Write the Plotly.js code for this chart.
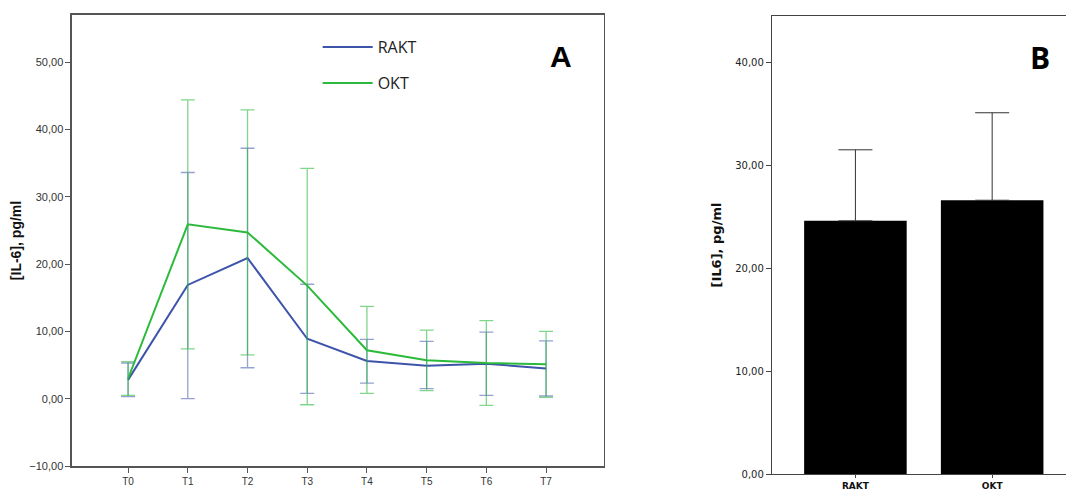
<!DOCTYPE html>
<html>
<head>
<meta charset="utf-8">
<script src="https://cdn.plot.ly/plotly-3.0.1.min.js"></script>
<style>html,body{margin:0;padding:0;background:#fff;}#chart{width:1066px;height:491px;}</style>
</head>
<body>
<div id="chart"></div>
<script>
// Panel A data
const timepoints = ["T0","T1","T2","T3","T4","T5","T6","T7"];
const raktMean  = [2.8, 16.9, 20.9, 8.9, 5.6, 4.9, 5.2, 4.5];
const raktUpper = [5.3, 33.6, 37.2, 17.0, 8.8, 8.5, 9.9, 8.6];
const raktLower = [0.3, 0.0, 4.6, 0.8, 2.3, 1.5, 0.5, 0.4];
const oktMean   = [3.0, 25.9, 24.7, 16.8, 7.2, 5.7, 5.3, 5.1];
const oktUpper  = [5.5, 44.4, 42.9, 34.2, 13.7, 10.2, 11.6, 10.0];
const oktLower  = [0.5, 7.4, 6.5, -0.9, 0.8, 1.2, -1.0, 0.2];
// Panel B data
const groups    = ["RAKT","OKT"];
const groupMean = [24.6, 26.6];
const groupUpper= [31.5, 35.1];

const blue = "rgb(62,84,170)";
const green = "rgb(44,186,60)";

function plus(m,u){return u.map((v,i)=>v-m[i]);}
function minus(m,l){return l.map((v,i)=>m[i]-v);}

const traces = [
  {x: timepoints, y: raktMean, type:"scatter", mode:"lines", name:"RAKT",
   line:{color:blue, width:2}, xaxis:"x", yaxis:"y", legend:"legend",
   error_y:{type:"data", symmetric:false, array:plus(raktMean,raktUpper), arrayminus:minus(raktMean,raktLower),
            color:"rgba(62,84,170,0.55)", thickness:1.3, width:7}},
  {x: timepoints, y: oktMean, type:"scatter", mode:"lines", name:"OKT",
   line:{color:green, width:2}, xaxis:"x", yaxis:"y", legend:"legend2",
   error_y:{type:"data", symmetric:false, array:plus(oktMean,oktUpper), arrayminus:minus(oktMean,oktLower),
            color:"rgba(44,186,60,0.6)", thickness:1.3, width:7}},
  {x: groups, y: groupMean, type:"bar", xaxis:"x2", yaxis:"y2", showlegend:false, width:0.75,
   marker:{color:"#000", line:{color:"#000", width:0}},
   error_y:{type:"data", symmetric:false, array:plus(groupMean,groupUpper), arrayminus:[0,0],
            color:"#333", thickness:1, width:17}}
];

const tickFontA = {family:"Liberation Sans, Arial", size:11, color:"#333"};
const tickFontB = {family:"DejaVu Sans", size:10, color:"#222"};

const layout = {
  width:1066, height:491,
  margin:{l:0,r:0,t:0,b:0},
  paper_bgcolor:"#fff", plot_bgcolor:"#fff",
  separators:",.",
  showlegend:true,
  xaxis:{domain:[0.0675,0.5666], range:[-0.94,7.97], showline:true, mirror:true, linecolor:"#555", linewidth:1.5,
         ticks:"outside", ticklen:5, tickcolor:"#555", showgrid:false, zeroline:false,
         tickfont:{family:"Liberation Sans, Arial", size:10, color:"#333"}, automargin:false, fixedrange:true},
  yaxis:{domain:[0.0509,0.9695], range:[-10,57], showline:true, mirror:true, linecolor:"#555", linewidth:1.5,
         ticks:"outside", ticklen:5, tickcolor:"#555", showgrid:false, zeroline:false, tickfont:tickFontA,
         tickvals:[-10,0,10,20,30,40,50], tickformat:".2f", automargin:false,
         title:{text:"<b>[IL-6], pg/ml</b>", font:{family:"Liberation Sans, Arial", size:14, color:"#111"}, standoff:4}},
  xaxis2:{domain:[0.7242,1.0], range:[-0.61,1.54], showline:true, mirror:true, linecolor:"#444", linewidth:1.2,
          ticks:"outside", ticklen:3, tickcolor:"#444", showgrid:false, zeroline:false, automargin:false,
          tickfont:{family:"DejaVu Sans", size:9, color:"#111", weight:"bold"}, anchor:"y2"},
  yaxis2:{domain:[0.0346,0.9674], range:[0,44.5], showline:true, mirror:false, linecolor:"#444", linewidth:1.2,
          ticks:"outside", ticklen:5, tickcolor:"#444", showgrid:false, zeroline:false, tickfont:tickFontB,
          tickvals:[0,10,20,30,40], tickformat:".2f", automargin:false, anchor:"x2",
          title:{text:"<b>[IL6], pg/ml</b>", font:{family:"DejaVu Sans", size:13, color:"#111"}, standoff:10}},
  legend:{x:0.298, y:0.904, xanchor:"left", yanchor:"middle", bgcolor:"rgba(0,0,0,0)", itemwidth:50,
          font:{family:"Open Sans", size:16, color:"#222"}},
  legend2:{x:0.298, y:0.831, xanchor:"left", yanchor:"middle", bgcolor:"rgba(0,0,0,0)", itemwidth:50,
          font:{family:"Open Sans", size:16, color:"#222"}},
  annotations:[
    {text:"<b>A</b>", xref:"paper", yref:"paper", x:0.526, y:0.885, xanchor:"center", yanchor:"middle",
     showarrow:false, font:{family:"Liberation Sans, Arial", size:30, color:"#000"}},
    {text:"<b>B</b>", xref:"paper", yref:"paper", x:0.976, y:0.882, xanchor:"center", yanchor:"middle",
     showarrow:false, font:{family:"Open Sans", size:30, color:"#000"}}
  ]
};

Plotly.newPlot("chart", traces, layout, {displayModeBar:false, staticPlot:true});
</script>
</body>
</html>
